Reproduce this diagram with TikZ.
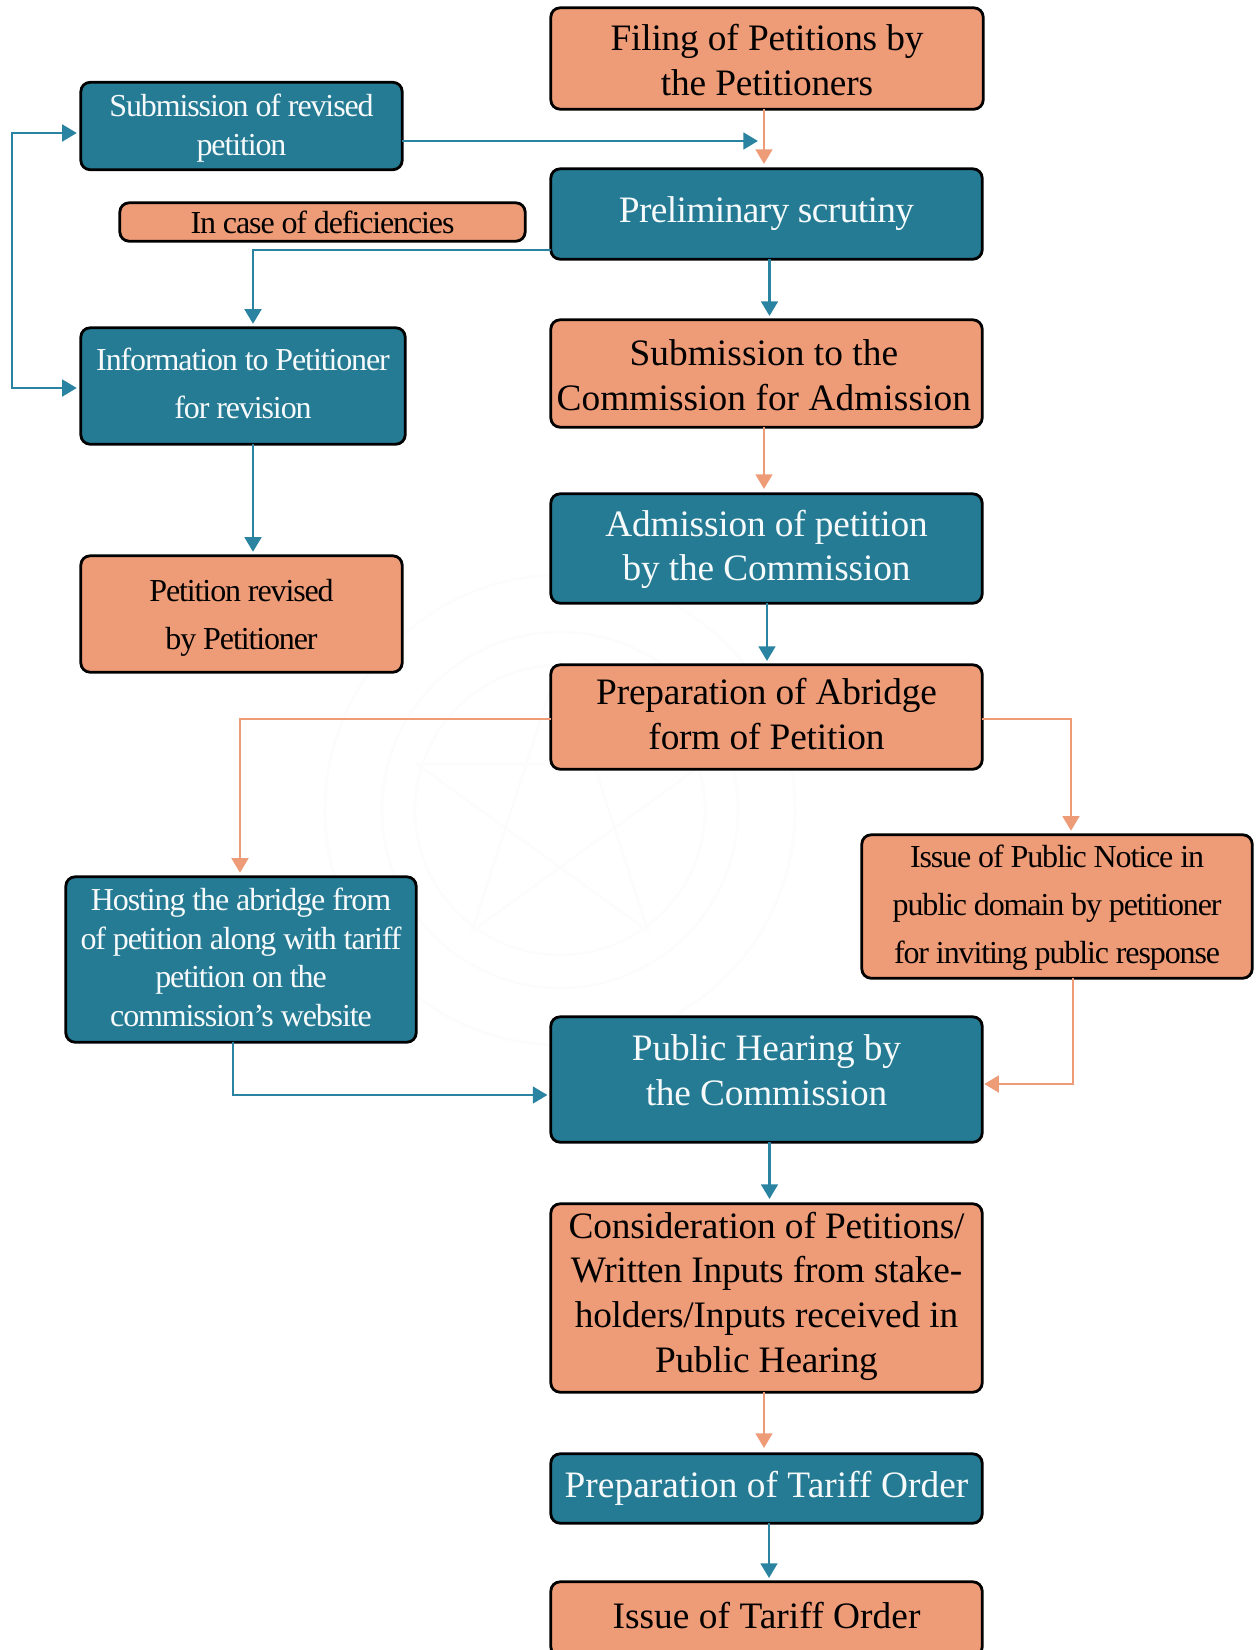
\documentclass[tikz,border=0pt]{standalone}
\usepackage{fontspec}
\setmainfont{Liberation Serif}
\newfontfamily\bigf[LetterSpace=-0.5]{Liberation Serif}
\newfontfamily\bigw[LetterSpace=0.2]{Liberation Serif}
\newfontfamily\bign[LetterSpace=-1.6]{Liberation Serif}
\newfontfamily\smallf[LetterSpace=-3.5]{Liberation Serif}
\usetikzlibrary{arrows.meta}
\definecolor{teal}{HTML}{257B94}
\definecolor{peach}{HTML}{EE9B77}
\definecolor{tline}{HTML}{2A83A0}
\tikzset{
  base/.style={draw=black,line width=2.1pt,rounded corners=7pt,inner sep=0pt,outer sep=0pt},
  tealbox/.style={base,fill=teal},
  peachbox/.style={base,fill=peach},
  sz/.style 2 args={minimum width=#1*0.75pt-1.2pt,minimum height=#2*0.75pt-1.2pt},
  lift/.style={yshift=#1*0.75pt},
  lbl/.style={inner sep=0pt,outer sep=0pt,align=center},
  wl/.style={lbl,text=white!96!teal},
  bl/.style={lbl,text=black},
  bigtext/.style={font=\bigf\fontsize{28}{33.5}\selectfont},
  bigwide/.style={font=\bigw\fontsize{28}{33.5}\selectfont},
  bignarrow/.style={font=\bign\fontsize{28}{33.5}\selectfont},
  wide/.style={font=\smallf\fontsize{24}{36}\selectfont},
  narrow/.style={font=\smallf\fontsize{24}{29}\selectfont},
  tarrow/.style={draw=tline,line width=2.1pt,-{Triangle[length=11pt,width=12.5pt]}},
  parrow/.style={draw=peach,line width=2.1pt,-{Triangle[length=11pt,width=12.5pt]}},
  tdouble/.style={draw=tline,line width=2.1pt,{Triangle[length=11pt,width=12.5pt]}-{Triangle[length=11pt,width=12.5pt]}},
  wm/.style={draw=black!1.2,line width=2pt}
}
\begin{document}
\begin{tikzpicture}[x=0.75pt,y=-0.75pt]
\clip (0,0) rectangle (1258,1650);
\useasboundingbox (0,0) rectangle (1258,1650);
% very faint watermark
\draw[wm] (560,810) circle (235);
\draw[wm] (560,810) circle (178);
\draw[wm] (560,810) circle (145);
\draw[wm,line join=round] (560,660) -- (648,931) -- (417,764) -- (703,764) -- (472,931) -- cycle;

% boxes
\node[peachbox,sz={434}{103},label={[bl,bigtext,lift=-1.5]center:{Filing of Petitions by\\the Petitioners}}] (filing) at (767,58.5) {};
\node[tealbox,sz={323}{89},label={[wl,narrow,lift=-2]center:{Submission of revised\\petition}}] (subrev) at (241.5,126) {};
\node[tealbox,sz={433}{92},label={[wl,bignarrow]center:{Preliminary scrutiny}}] (prelim) at (766.5,214) {};
\node[peachbox,sz={407}{40},label={[bl,narrow]center:{In case of deficiencies}}] (defic) at (322.5,222) {};
\node[tealbox,sz={326}{118},label={[wl,wide,lift=3]center:{Information to Petitioner\\for revision}}] (info) at (243,386) {};
\node[peachbox,sz={323}{118},label={[bl,wide,lift=-4]center:{Petition revised\\by Petitioner}}] (revised) at (241.5,614) {};
\node[peachbox,sz={433}{109},label={[bl,bigwide,lift=-1.5,xshift=-2pt]center:{Submission to the\\Commission for Admission}}] (submit) at (766.5,373.5) {};
\node[tealbox,sz={433}{111},label={[wl,bigtext,lift=-1]center:{Admission of petition\\by the Commission}}] (admit) at (766.5,548.5) {};
\node[peachbox,sz={433}{106},label={[bl,bigtext,lift=3]center:{Preparation of Abridge\\form of Petition}}] (abridge) at (766.5,717) {};
\node[tealbox,sz={352}{167},label={[wl,narrow,lift=2]center:{Hosting the abridge from\\of petition along with tariff\\petition on the\\commission’s website}}] (host) at (241,959.5) {};
\node[peachbox,sz={392}{145},label={[bl,wide,lift=-1]center:{Issue of Public Notice in\\public domain by petitioner\\for inviting public response}}] (notice) at (1057,906.5) {};
\node[tealbox,sz={433}{127},label={[wl,bigtext,lift=9]center:{Public Hearing by\\the Commission}}] (hearing) at (766.5,1079.5) {};
\node[peachbox,sz={433}{190},label={[bl,bigtext,lift=2]center:{Consideration of Petitions/\\Written Inputs from stake-\\holders/Inputs received in\\Public Hearing}}] (consider) at (766.5,1298) {};
\node[tealbox,sz={433}{71},label={[wl,bigwide]center:{Preparation of Tariff Order}}] (tariff) at (766.5,1488.5) {};
\node[peachbox,sz={433}{76},label={[bl,bigwide,lift=3]center:{Issue of Tariff Order}}] (issue) at (766.5,1619) {};

% routing coordinates
\coordinate (jA) at (758,141);
\coordinate (jB) at (12,133);
\coordinate (jC) at (12,388);
\coordinate (jD) at (253,250);
\coordinate (jE) at (240,719);
\coordinate (jF) at (1071,719);
\coordinate (jG) at (1073,1084);
\coordinate (jH) at (233,1095);
\coordinate (tA) at (764,164);
\coordinate (tB) at (769.5,316);
\coordinate (tC) at (764,489);
\coordinate (tD) at (767,661);
\coordinate (tE) at (769.5,1199);
\coordinate (tF) at (764,1448);
\coordinate (tG) at (769,1578);

% connectors
\draw[parrow] (filing.south -| tA) -- (tA);
\draw[tarrow] (subrev.east |- jA) -- (jA);
\draw[tarrow] (prelim.west |- jD) -- (jD) -- ([yshift=3pt]info.north -| jD);
\draw[tarrow] (prelim.south -| tB) -- (tB);
\draw[tarrow] (info.south -| jD) -- ([yshift=3pt]revised.north -| jD);
\draw[parrow] (submit.south -| tC) -- (tC);
\draw[tarrow] (admit.south -| tD) -- (tD);
\draw[parrow] (abridge.west |- jE) -- (jE) -- ([yshift=3pt]host.north -| jE);
\draw[parrow] (abridge.east |- jF) -- (jF) -- ([yshift=3pt]notice.north -| jF);
\draw[parrow] (notice.south -| jG) -- (jG) -- ([xshift=1.5pt]hearing.east |- jG);
\draw[tarrow] (host.south -| jH) -- (jH) -- ([xshift=-2.5pt]hearing.west |- jH);
\draw[tarrow] (hearing.south -| tE) -- (tE);
\draw[parrow] (consider.south -| tF) -- (tF);
\draw[tarrow] (tariff.south -| tG) -- (tG);
\draw[tdouble] ([xshift=-3pt]subrev.west |- jB) -- (jB) -- (jC) -- ([xshift=-3pt]info.west |- jC);
\end{tikzpicture}
\end{document}
